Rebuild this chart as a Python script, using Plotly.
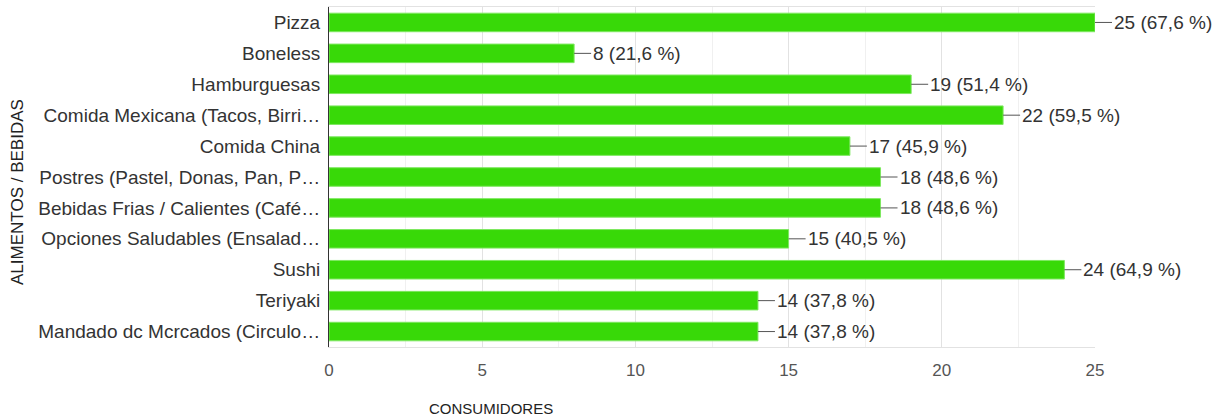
import plotly.graph_objects as go

categorias = [
    "Pizza", "Boneless", "Hamburguesas", "Comida Mexicana (Tacos, Birri…",
    "Comida China", "Postres (Pastel, Donas, Pan, P…", "Bebidas Frias / Calientes (Café…",
    "Opciones Saludables (Ensalad…", "Sushi", "Teriyaki", "Mandado dc Mcrcados (Circulo…",
]
consumidores = [25, 8, 19, 22, 17, 18, 18, 15, 24, 14, 14]
porcentajes = ["67,6", "21,6", "51,4", "59,5", "45,9", "48,6", "48,6", "40,5", "64,9", "37,8", "37,8"]
ticks = [0, 5, 10, 15, 20, 25]

FONT = "Liberation Sans, Arial, sans-serif"

fig = go.Figure()
fig.add_trace(go.Bar(
    x=consumidores, y=categorias, orientation="h",
    marker=dict(color="#38d908", line=dict(color="#7ee860", width=1)),
    width=0.6, hoverinfo="skip",
))

for c, v, p in zip(categorias, consumidores, porcentajes):
    fig.add_annotation(
        x=v, y=c, xref="x", yref="y", text=f"{v} ({p} %)",
        showarrow=True, arrowhead=0, arrowwidth=1, arrowcolor="#555",
        ax=17, ay=0, xanchor="left", yanchor="middle",
        font=dict(family=FONT, size=19, color="#333"),
    )

fig.add_annotation(x=0.2115, y=-0.18, xref="paper", yref="paper",
                   xanchor="center", yanchor="middle",
                   text="CONSUMIDORES", showarrow=False,
                   font=dict(family=FONT, size=15, color="#222"))
fig.add_annotation(x=-0.406, y=0.456, xref="paper", yref="paper", textangle=-90,
                   xanchor="center", yanchor="middle",
                   text="ALIMENTOS / BEBIDAS", showarrow=False,
                   font=dict(family=FONT, size=17, color="#222"))

fig.update_layout(
    width=1225, height=420,
    margin=dict(l=329, r=130, t=7, b=73),
    plot_bgcolor="white", paper_bgcolor="white",
    showlegend=False,
    font=dict(family=FONT, size=19, color="#333"),
    xaxis=dict(range=[0, 25], tickvals=ticks, showgrid=True, gridcolor="#e2e2e2",
               minor=dict(dtick=2.5, showgrid=True, gridcolor="#f0f0f0"),
               zeroline=False, showline=True, linecolor="#e2e2e2", mirror=True,
               ticks="", tickfont=dict(size=17, color="#555"), ticklabelstandoff=8),
    yaxis=dict(autorange="reversed", showline=True, linecolor="#333", linewidth=1,
               ticks="", tickfont=dict(size=19, color="#333"), ticklabelstandoff=4,
               showgrid=False),
)

fig.write_html("out.html")
